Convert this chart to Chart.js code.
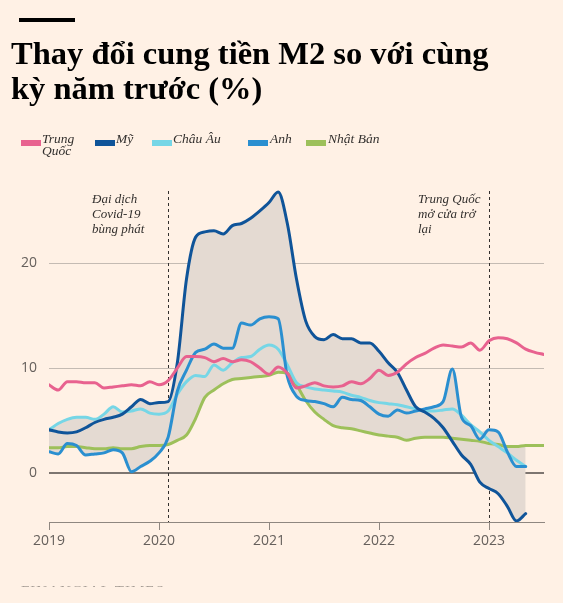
<!DOCTYPE html>
<html><head><meta charset="utf-8">
<script src="https://cdn.jsdelivr.net/npm/chart.js@4"></script>
<style>
html,body{margin:0;padding:0;background:#fff1e5;width:563px;height:603px;overflow:hidden;position:relative}
#c{position:absolute;left:0;top:0}
.bar{position:absolute;left:19px;top:18px;width:56px;height:4px;background:#000}
.title{position:absolute;left:11px;top:36px;font:bold 32.5px "Liberation Serif",serif;line-height:35px;color:#000;width:552px;white-space:nowrap}
.leg{position:absolute;top:133px;font:italic 13.5px "Liberation Serif",serif;line-height:12px;color:#33302e}
.sw{position:absolute;top:140px;width:20px;height:6px}
.ann{position:absolute;top:191px;font:italic 13px "Liberation Serif",serif;line-height:15px;color:#33302e}
.ft{position:absolute;left:21px;top:582px;height:5px;overflow:hidden;font:15px "Liberation Serif",serif;letter-spacing:1px;color:#a59c94;line-height:18px}
</style></head>
<body>
<canvas id="c" width="563" height="603"></canvas>
<div class="bar"></div>
<div class="title">Thay đổi cung tiền M2 so với cùng<br>kỳ năm trước (%)</div>
<div class="sw" style="left:21px;background:#e8628f"></div><div class="leg" style="left:42px">Trung<br>Quốc</div>
<div class="sw" style="left:95px;background:#0f5499"></div><div class="leg" style="left:116px">Mỹ</div>
<div class="sw" style="left:152px;background:#76d6e6"></div><div class="leg" style="left:173px">Châu Âu</div>
<div class="sw" style="left:248px;background:#2a8fd0"></div><div class="leg" style="left:270px">Anh</div>
<div class="sw" style="left:306px;background:#9dc05a"></div><div class="leg" style="left:328px">Nhật Bản</div>
<div class="ann" style="left:92px">Đại dịch<br>Covid-19<br>bùng phát</div>
<div class="ann" style="left:418px">Trung Quốc<br>mở cửa trở<br>lại</div>
<div class="ft">FINANCIAL TIMES</div>
<script>
const startYear = 2019;
const yearTicks = [2019, 2020, 2021, 2022, 2023];
const valueTicks = [0, 10, 20];
const eventDates = [2020.08, 2023.0];

const china = [8.4,7.9,8.7,8.7,8.6,8.6,8.1,8.2,8.3,8.4,8.3,8.7,
  8.4,8.8,10.0,11.1,11.1,11.0,10.6,10.9,10.6,10.8,10.6,10.0,
  9.4,10.1,9.5,8.1,8.3,8.6,8.3,8.2,8.3,8.7,8.5,9.0,
  9.8,9.3,9.6,10.4,11.0,11.4,11.9,12.2,12.1,12.0,12.4,11.7,
  12.6,12.9,12.8,12.4,11.8,11.5,11.3];
const us = [4.1,3.9,3.8,3.9,4.3,4.8,5.1,5.3,5.6,6.3,7.0,6.6,
  6.7,6.8,10.5,18.5,22.5,23.0,23.1,22.8,23.6,23.8,24.3,25.0,
  25.8,26.8,23.8,18.5,14.5,13.0,12.7,13.2,12.8,12.8,12.4,12.4,
  11.6,10.5,9.6,7.9,6.3,5.8,5.2,4.3,3.0,1.7,0.8,-0.9,
  -1.5,-2.0,-3.2,-4.6,-3.9];
const eu = [4.1,4.7,5.1,5.3,5.3,5.1,5.6,6.3,5.8,5.9,6.1,5.7,
  5.6,5.9,7.5,8.7,9.3,9.2,10.3,9.8,10.5,11.0,11.1,11.8,
  12.2,11.8,10.3,8.6,8.2,8.0,7.9,7.8,7.7,7.4,7.2,6.9,
  6.7,6.6,6.5,6.3,6.1,5.9,5.9,6.0,6.1,5.5,4.6,3.9,
  3.1,2.5,1.9,1.2,0.6];
const uk = [2.0,1.8,2.8,2.6,1.7,1.8,1.9,2.2,1.9,0.1,0.6,1.1,
  1.9,3.4,7.8,9.8,11.5,11.8,12.3,11.9,11.9,14.3,14.1,14.7,
  14.9,14.7,9.2,7.3,6.9,6.8,6.6,6.3,7.2,7.0,6.9,6.3,
  5.6,5.4,6.0,5.7,5.9,6.1,6.3,6.8,9.9,5.3,4.5,3.2,
  4.1,3.9,2.0,0.6,0.6];
const japan = [2.4,2.4,2.5,2.5,2.4,2.3,2.3,2.4,2.3,2.3,2.5,2.6,
  2.6,2.7,3.1,3.6,5.2,7.2,7.9,8.5,8.9,9.0,9.1,9.2,
  9.3,9.6,9.5,8.4,6.9,5.8,5.1,4.5,4.3,4.2,4.0,3.8,
  3.6,3.5,3.4,3.1,3.3,3.4,3.4,3.4,3.3,3.2,3.1,3.0,
  2.8,2.7,2.5,2.5,2.6,2.6,2.6];

const toPts = arr => arr.map((v, i) => ({x: startYear + i / 12, y: v}));
const bandSeries = [us, eu, uk, japan];
const bandLen = Math.min(...bandSeries.map(s => s.length));
const upper = [], lower = [];
for (let i = 0; i < bandLen; i++) {
  const vals = bandSeries.map(s => s[i]);
  upper.push(Math.max(...vals));
  lower.push(Math.min(...vals));
}

const lineDs = (label, arr, color, order) => ({
  label, data: toPts(arr), borderColor: color, borderWidth: 3, pointRadius: 0, order,
  fill: false, cubicInterpolationMode: 'monotone', borderCapStyle: 'round', borderJoinStyle: 'round'
});

const eventPlugin = {
  id: 'events',
  beforeDatasetsDraw(chart) {
    const {ctx, chartArea, scales} = chart;
    ctx.save();
    ctx.strokeStyle = '#33302e';
    ctx.lineWidth = 1;
    ctx.setLineDash([3, 3]);
    eventDates.forEach(d => {
      const px = Math.round(scales.x.getPixelForValue(d)) + 0.5;
      ctx.beginPath();
      ctx.moveTo(px, chartArea.top + 1);
      ctx.lineTo(px, chartArea.bottom);
      ctx.stroke();
    });
    ctx.restore();
  }
};

Chart.defaults.font.family = '"Open Sans", sans-serif';
new Chart(document.getElementById('c'), {
  type: 'line',
  data: {
    datasets: [
      {label: 'upper', data: toPts(upper), order: 20, borderWidth: 0, pointRadius: 0, fill: false, cubicInterpolationMode: 'monotone', backgroundColor: '#e4dad2'},
      {label: 'lower', data: toPts(lower), order: 10, borderWidth: 0, pointRadius: 0, fill: '-1', cubicInterpolationMode: 'monotone', backgroundColor: '#e4dad2'},
      lineDs('Nhật Bản', japan, '#9dc05a', 5),
      lineDs('Châu Âu', eu, '#76d6e6', 4),
      lineDs('Anh', uk, '#2a8fd0', 3),
      lineDs('Mỹ', us, '#0f5499', 2),
      lineDs('Trung Quốc', china, '#e8628f', 1)
    ]
  },
  options: {
    responsive: false,
    animation: false,
    devicePixelRatio: 1,
    layout: {padding: {top: 190, right: 19, left: 0, bottom: 0}},
    plugins: {legend: {display: false}, tooltip: {enabled: false}},
    scales: {
      x: {
        type: 'linear', min: 2019, max: 2023.5,
        afterBuildTicks: s => { s.ticks = yearTicks.map(v => ({value: v})); },
        afterFit: s => { s.height = 81; },
        grid: {drawOnChartArea: false, drawTicks: true, tickLength: 8, color: '#8f8780', lineWidth: 1},
        border: {display: true, color: '#8f8780', width: 1},
        ticks: {callback: v => String(v), color: '#66605c', font: {size: 14}, padding: 3, maxRotation: 0}
      },
      y: {
        type: 'linear', min: -4.7, max: 27,
        afterBuildTicks: s => { s.ticks = valueTicks.map(v => ({value: v})); },
        afterFit: s => { s.width = 49; },
        grid: {
          drawTicks: false,
          color: c => c.tick && c.tick.value === 0 ? '#7d7570' : '#c4bbb3',
          lineWidth: c => c.tick && c.tick.value === 0 ? 2 : 1
        },
        border: {display: false},
        ticks: {color: '#66605c', font: {size: 14}, padding: 12}
      }
    }
  },
  plugins: [eventPlugin]
});
</script>
</body></html>
